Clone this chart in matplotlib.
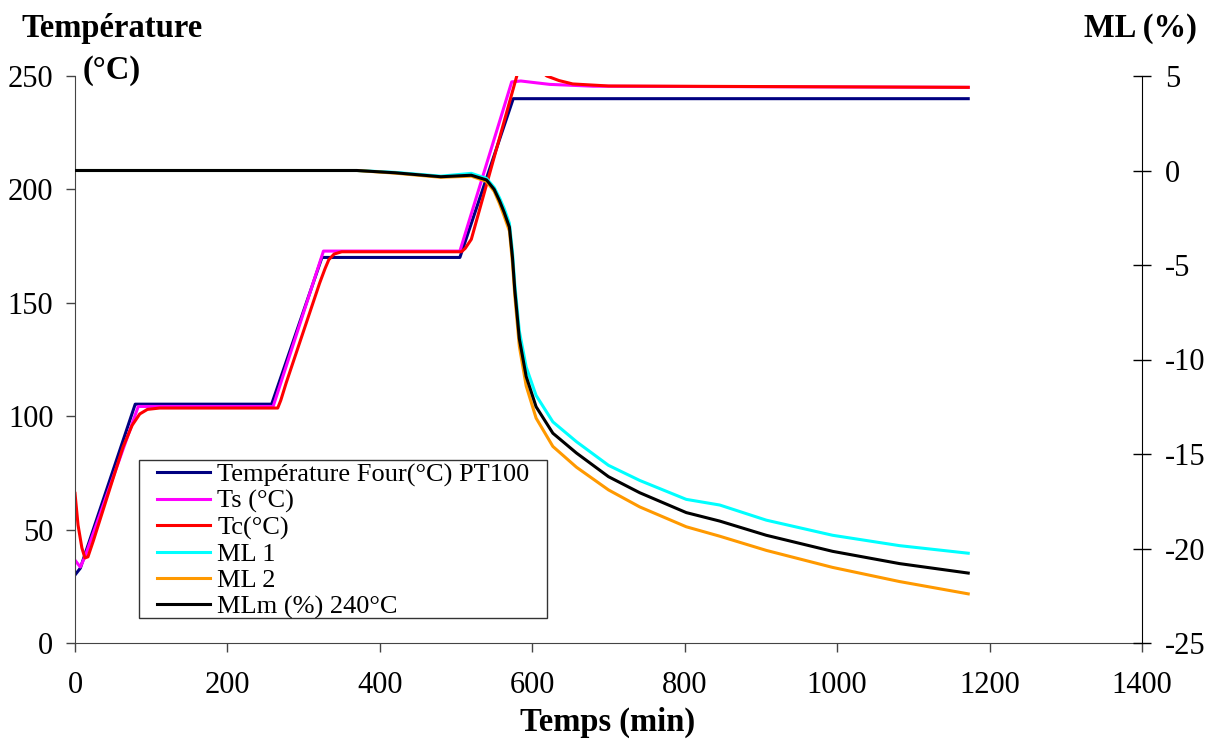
import matplotlib
matplotlib.use("Agg")
from matplotlib import pyplot as plt
from matplotlib.patches import Rectangle

plt.rcParams['font.family'] = ['Liberation Serif', 'DejaVu Serif']
plt.rcParams['axes.unicode_minus'] = False

# temperatures (left axis)
t_four = [0, 7, 79, 258, 324, 505, 575, 1172]
T_four = [30, 33, 105.3, 105.3, 170, 170, 240, 240]

t_ts = [0, 7, 13, 83, 260, 326, 505, 573, 585, 600, 623, 680, 1172]
T_ts = [36.5, 33.5, 38, 104.3, 104.3, 172.8, 172.8, 247.4, 247.8, 247.2, 246.3, 245.5, 245]

t_tc = [0, 4, 9, 13, 17, 24, 63, 75, 85, 95, 111, 266, 270, 277, 321, 328, 333, 340, 350,
        507, 512, 520, 580, 598, 619, 635, 653, 700, 1172]
T_tc = [66, 52, 42, 37.5, 38, 45, 86.4, 96, 101, 103, 103.6, 103.6, 107, 114.6, 158.7, 165, 169, 171.5, 172.5,
        172.5, 174, 178, 250.4, 256, 250, 248, 246.5, 245.6, 245]

# mass loss (right axis)
t_ml = [0, 370, 420, 480, 520, 540, 550, 557, 563, 570, 574, 577, 583, 592, 605, 627, 658, 700, 741,
        802, 846, 907, 994, 1082, 1172]
ml_m = [0, 0, -0.12, -0.33, -0.25, -0.5, -1.0, -1.6, -2.2, -3.0, -4.6, -6.3, -8.9, -10.9, -12.5, -13.9,
        -14.95, -16.2, -17.05, -18.1, -18.55, -19.3, -20.15, -20.8, -21.3]
ml_1 = [0, 0, -0.1, -0.3, -0.15, -0.42, -0.9, -1.45, -2.0, -2.8, -4.3, -6.0, -8.5, -10.4, -11.9, -13.3,
        -14.35, -15.6, -16.4, -17.4, -17.7, -18.5, -19.3, -19.85, -20.25]
ml_2 = [0, 0, -0.14, -0.36, -0.3, -0.58, -1.1, -1.75, -2.4, -3.2, -4.9, -6.6, -9.3, -11.4, -13.1, -14.6,
        -15.7, -16.9, -17.8, -18.85, -19.35, -20.1, -21.0, -21.75, -22.4]

x_ticks = [0, 200, 400, 600, 800, 1000, 1200, 1400]
left_ticks = [0, 50, 100, 150, 200, 250]
right_ticks = [-25, -20, -15, -10, -5, 0, 5]

W, H = 1213, 741
fig = plt.figure(figsize=(W / 100, H / 100), dpi=100)
ax1 = fig.add_axes([75 / W, 1 - 643 / H, (1142 - 75) / W, (643 - 76) / H])
ax2 = ax1.twinx()

lw = 2.2
l1, = ax1.plot(t_four, T_four, color='#000080', lw=lw, label='Température Four(°C) PT100')
l2, = ax1.plot(t_ts, T_ts, color='#FF00FF', lw=lw, label='Ts (°C)')
l3, = ax1.plot(t_tc, T_tc, color='#FF0000', lw=lw, label='Tc(°C)')
l4, = ax2.plot(t_ml, ml_1, color='#00FFFF', lw=lw, label='ML 1')
l5, = ax2.plot(t_ml, ml_2, color='#FF9900', lw=lw, label='ML 2')
l6, = ax2.plot(t_ml, ml_m, color='black', lw=lw, label='MLm (%) 240°C')

ax1.set_xlim(0, 1400)
ax1.set_ylim(0, 250)
ax2.set_ylim(-25, 5)
ax1.set_xticks(x_ticks)
ax1.set_yticks(left_ticks)
ax2.set_yticks(right_ticks)

axis_col = '#444444'
for ax in (ax1, ax2):
    ax.spines['top'].set_visible(False)
ax1.spines['right'].set_visible(False)
ax2.spines['left'].set_visible(False)
ax2.spines['bottom'].set_visible(False)
ax1.spines['left'].set_color(axis_col)
ax1.spines['bottom'].set_color(axis_col)
ax2.spines['right'].set_color('black')

ax1.tick_params(axis='x', direction='out', length=6.5, width=1, color=axis_col, labelsize=22, pad=14)
ax1.tick_params(axis='y', direction='out', length=6.5, width=1, color=axis_col, labelsize=22, pad=9)
ax2.tick_params(axis='y', direction='inout', length=13, width=1, color='black', labelsize=22, pad=10)

fig.text(112 / W, 1 - 28 / H, 'Température', ha='center', va='center', fontsize=23.5, fontweight='bold')
fig.text(112 / W, 1 - 70 / H, '(°C)', ha='center', va='center', fontsize=23.5, fontweight='bold')
fig.text(1140 / W, 1 - 28 / H, 'ML (%)', ha='center', va='center', fontsize=23.5, fontweight='bold')
fig.text(608 / W, 1 - 722 / H, 'Temps (min)', ha='center', va='center', fontsize=23.5, fontweight='bold')

# legend box drawn by hand so the inner padding matches
box = Rectangle((139 / W, 1 - 618 / H), (547 - 139) / W, (618 - 460) / H, transform=fig.transFigure,
                facecolor='white', edgecolor='#333333', lw=1.0, zorder=5)
ax2.add_artist(box)
box.set_clip_on(False)
leg = ax2.legend(handles=[l1, l2, l3, l4, l5, l6], loc='upper left',
                 bbox_to_anchor=(157 / W, 1 - 463 / H), bbox_transform=fig.transFigure,
                 fontsize=19, frameon=False, borderaxespad=0, borderpad=0,
                 labelspacing=0.1, handlelength=2.0, handletextpad=0.28)
leg.set_zorder(6)

fig.savefig('out.png', dpi=100)
